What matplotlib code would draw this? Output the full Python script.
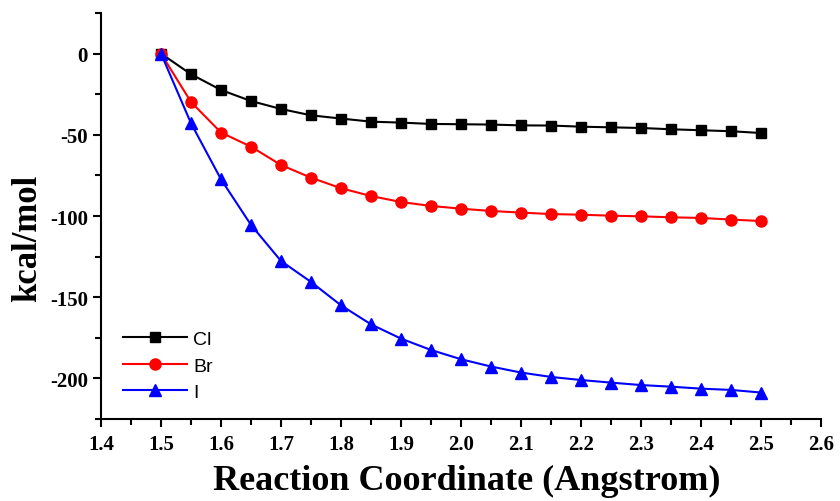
import matplotlib
matplotlib.use("Agg")
import matplotlib.pyplot as plt
from matplotlib.ticker import MultipleLocator, FormatStrFormatter

plt.rcParams["axes.unicode_minus"] = False

x = [1.50, 1.55, 1.60, 1.65, 1.70, 1.75, 1.80, 1.85, 1.90, 1.95, 2.00,
     2.05, 2.10, 2.15, 2.20, 2.25, 2.30, 2.35, 2.40, 2.45, 2.50]
cl = [0.0, -12.7, -22.4, -29.2, -34.1, -38.0, -40.0, -41.9, -42.5, -43.3, -43.5,
      -43.7, -44.2, -44.3, -45.0, -45.4, -45.8, -46.6, -47.2, -47.8, -48.9]
br = [0.0, -29.8, -48.6, -57.3, -68.6, -76.4, -82.9, -87.7, -91.4, -93.8, -95.5,
      -96.9, -97.9, -98.8, -99.2, -99.8, -100.2, -100.8, -101.2, -102.2, -103.1]
iod = [0.0, -42.9, -77.4, -105.5, -127.7, -140.6, -155.0, -166.7, -175.5, -182.5, -188.2,
       -192.7, -196.4, -199.1, -201.0, -202.6, -204.1, -205.1, -206.3, -207.1, -208.7]
labels = ["Cl", "Br", "I"]

fig = plt.figure(figsize=(8.4, 5.02), dpi=100)
ax = fig.add_axes([101/840, 1-420/502, 720/840, 406/502])

ax.plot(x, cl, color="black", lw=1.5, marker="s", ms=7, label=labels[0])
ax.plot(x, br, color="#ff0000", lw=1.5, marker="o", ms=8, label=labels[1])
ax.plot(x, iod, color="#0000ff", lw=1.5, marker="^", ms=8.5, label=labels[2])

ax.set_xlim(1.4, 2.6)
ax.set_ylim(-225, 25)
for s in ["top", "right"]:
    ax.spines[s].set_visible(False)
for s in ["left", "bottom"]:
    ax.spines[s].set_linewidth(1.5)

ax.xaxis.set_major_locator(MultipleLocator(0.1))
ax.xaxis.set_minor_locator(MultipleLocator(0.05))
ax.yaxis.set_major_locator(MultipleLocator(50))
ax.yaxis.set_minor_locator(MultipleLocator(25))
ax.xaxis.set_major_formatter(FormatStrFormatter("%.1f"))
ax.tick_params(which="major", direction="out", length=6, width=1.5)
ax.tick_params(which="minor", direction="out", length=4, width=1.5)
ax.tick_params(axis="x", pad=5)

for lab in ax.get_xticklabels() + ax.get_yticklabels():
    lab.set_fontfamily("Liberation Serif")
    lab.set_fontweight("bold")
    lab.set_fontsize(15)

ax.set_xlabel("Reaction Coordinate (Angstrom)", family="Liberation Serif",
              weight="bold", size=26)
ax.xaxis.set_label_coords(0.508, -0.11)
ax.set_ylabel("kcal/mol", family="Liberation Serif", weight="bold", size=25)
ax.yaxis.set_label_coords(-0.079, 0.447)

leg = ax.legend(loc="upper left", bbox_to_anchor=(0.02, 0.237), frameon=False,
                prop=dict(family="Liberation Sans", size=14), handlelength=3.3,
                handletextpad=0.3, labelspacing=0.45, borderaxespad=0)

fig.savefig("out.png", dpi=100, facecolor="white")
